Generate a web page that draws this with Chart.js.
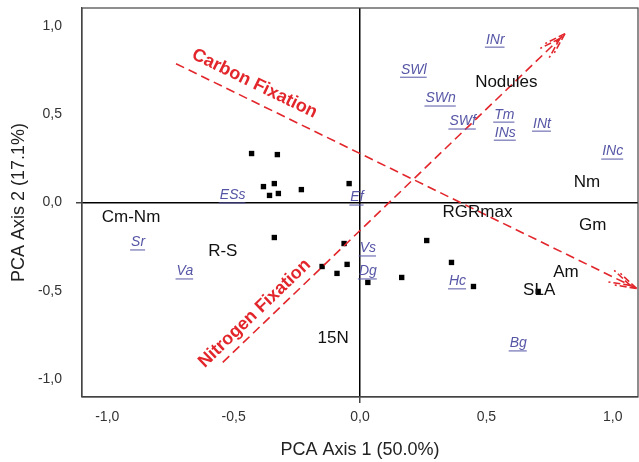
<!DOCTYPE html>
<html>
<head>
<meta charset="utf-8">
<script src="https://cdn.jsdelivr.net/npm/chart.js@4"></script>
<style>
  html, body { margin: 0; padding: 0; background: #fff; }
  #wrap { width: 639px; height: 462px; }
</style>
</head>
<body>
<div id="wrap"><canvas id="pca"></canvas></div>
<script>
// site scores (black squares)
const pointX = [-0.429, -0.327, -0.382, -0.339, -0.358, -0.323, -0.232, -0.043, -0.339,
  -0.063, -0.150, -0.091, -0.051, 0.031, 0.165, 0.264, 0.362, 0.449, 0.705];
const pointY = [0.277, 0.271, 0.090, 0.107, 0.040, 0.051, 0.073, 0.107, -0.198,
  -0.232, -0.362, -0.401, -0.350, -0.452, -0.424, -0.215, -0.339, -0.475, -0.503];

// trait labels (black)
const traitNames = ["Nodules", "Nm", "RGRmax", "Gm", "Am", "SLA", "15N", "Cm-Nm", "R-S"];
const traitX = [0.579, 0.898, 0.465, 0.921, 0.815, 0.709, -0.106, -0.906, -0.543];
const traitY = [0.678, 0.113, -0.056, -0.130, -0.395, -0.497, -0.768, -0.085, -0.277];

// species labels (blue, underlined)
const speciesNames = ["INr", "SWl", "SWn", "SWf", "Tm", "INs", "INt", "INc", "Ef", "ESs",
  "Sr", "Va", "Vs", "Dg", "Hc", "Bg"];
const speciesX = [0.535, 0.213, 0.319, 0.406, 0.571, 0.575, 0.720, 1.000, -0.012, -0.504,
  -0.878, -0.693, 0.031, 0.031, 0.386, 0.626];
const speciesY = [0.921, 0.751, 0.588, 0.458, 0.497, 0.395, 0.446, 0.288, 0.028, 0.040,
  -0.226, -0.390, -0.260, -0.390, -0.446, -0.797];

// interpretation arrows
const arrowNames = ["Carbon Fixation", "Nitrogen Fixation"];
const arrowStartX = [-0.728, -0.543];
const arrowStartY = [0.785, -0.904];
const arrowEndX = [1.094, 0.811];
const arrowEndY = [-0.486, 0.955];
const arrowLabelX = [-0.417, -0.417];
const arrowLabelY = [0.672, -0.627];

const tickValues = [-1, -0.5, 0, 0.5, 1];
const tickLabels = ["-1,0", "-0,5", "0,0", "0,5", "1,0"];

const RED = "#e2262b";
const BLUE = "#5656a6";

const overlay = {
  id: "overlay",
  afterDatasetsDraw(chart) {
    const { ctx, chartArea: a, scales: { x, y } } = chart;
    ctx.save();
    // frame
    ctx.strokeStyle = "#444";
    ctx.lineWidth = 1.2;
    ctx.strokeRect(a.left, a.top, a.right - a.left, a.bottom - a.top);

    // arrows
    ctx.strokeStyle = RED;
    ctx.lineWidth = 1.6;
    ctx.setLineDash([9, 5]);
    for (let i = 0; i < arrowNames.length; i++) {
      const x0 = x.getPixelForValue(arrowStartX[i]), y0 = y.getPixelForValue(arrowStartY[i]);
      const x1 = x.getPixelForValue(arrowEndX[i]), y1 = y.getPixelForValue(arrowEndY[i]);
      ctx.beginPath();
      ctx.moveTo(x0, y0);
      ctx.lineTo(x1, y1);
      ctx.stroke();
      const back = Math.atan2(y0 - y1, x0 - x1);
      ctx.setLineDash([7, 3]);
      for (const off of [0, 7]) {
        const tx = x1 + off * Math.cos(back), ty = y1 + off * Math.sin(back);
        for (const s of [-0.3, 0.3]) {
          ctx.beginPath();
          ctx.moveTo(tx, ty);
          ctx.lineTo(tx + 22 * Math.cos(back + s), ty + 22 * Math.sin(back + s));
          ctx.stroke();
        }
      }
      ctx.setLineDash([9, 5]);

      // label parallel to the arrow
      let ang = Math.atan2(y1 - y0, x1 - x0);
      if (ang > Math.PI / 2) ang -= Math.PI;
      if (ang < -Math.PI / 2) ang += Math.PI;
      ctx.save();
      ctx.translate(x.getPixelForValue(arrowLabelX[i]), y.getPixelForValue(arrowLabelY[i]));
      ctx.rotate(ang);
      ctx.fillStyle = RED;
      ctx.font = "bold 18px 'Liberation Sans', Arial, sans-serif";
      ctx.textAlign = "center";
      ctx.textBaseline = "middle";
      ctx.fillText(arrowNames[i], 0, 0);
      ctx.restore();
    }
    ctx.setLineDash([]);

    ctx.textAlign = "center";
    ctx.textBaseline = "middle";
    // traits
    ctx.fillStyle = "#111";
    ctx.font = "17px 'Liberation Sans', Arial, sans-serif";
    traitNames.forEach((t, i) => {
      ctx.fillText(t, x.getPixelForValue(traitX[i]), y.getPixelForValue(traitY[i]));
    });
    // species
    ctx.fillStyle = BLUE;
    ctx.strokeStyle = BLUE;
    ctx.lineWidth = 1;
    ctx.font = "italic 14px 'Liberation Sans', Arial, sans-serif";
    speciesNames.forEach((t, i) => {
      const px = x.getPixelForValue(speciesX[i]), py = y.getPixelForValue(speciesY[i]);
      ctx.fillText(t, px, py);
      const w = ctx.measureText(t).width;
      ctx.beginPath();
      ctx.moveTo(px - w / 2 - 1, py + 7.5);
      ctx.lineTo(px + w / 2, py + 7.5);
      ctx.stroke();
    });
    ctx.restore();
  }
};

const zeroGrid = {
  color: (c) => (c.tick && c.tick.value === 0 ? "#000" : "rgba(0,0,0,0)"),
  lineWidth: (c) => (c.tick && c.tick.value === 0 ? 1.5 : 0),
  tickColor: "#444",
  tickLength: 6,
  drawTicks: true
};

function noPad(s) {
  s.paddingTop = 0;
  s.paddingBottom = 0;
  s.paddingLeft = 0;
  s.paddingRight = 0;
}

new Chart(document.getElementById("pca"), {
  type: "scatter",
  data: {
    datasets: [{
      data: pointX.map((v, i) => ({ x: v, y: pointY[i] })),
      pointStyle: "rect",
      radius: 3.8,
      backgroundColor: "#000",
      borderColor: "#000",
      borderWidth: 0
    }]
  },
  options: {
    responsive: true,
    maintainAspectRatio: false,
    animation: false,
    layout: { autoPadding: false, padding: { top: 8, right: 1, left: 0, bottom: 0 } },
    plugins: { legend: { display: false }, tooltip: { enabled: false } },
    scales: {
      x: {
        type: "linear",
        min: -1.1,
        max: 1.1,
        afterBuildTicks: (s) => { s.ticks = tickValues.map((v) => ({ value: v })); },
        afterFit: (s) => { s.height = 65; noPad(s); },
        ticks: {
          callback: (v) => tickLabels[tickValues.indexOf(v)],
          color: "#333",
          font: { size: 14, family: "'Liberation Sans', Arial" },
          padding: 6,
          maxRotation: 0
        },
        grid: zeroGrid,
        border: { display: true, color: "#444", width: 1.2 },
        title: {
          display: true,
          text: "PCA Axis 1 (50.0%)",
          color: "#222",
          font: { size: 18, family: "'Liberation Sans', Arial" },
          padding: { top: 0, bottom: 1 }
        }
      },
      y: {
        type: "linear",
        min: -1.1,
        max: 1.1,
        afterBuildTicks: (s) => { s.ticks = tickValues.map((v) => ({ value: v })); },
        afterFit: (s) => { s.width = 82; noPad(s); },
        ticks: {
          callback: (v) => tickLabels[tickValues.indexOf(v)],
          color: "#333",
          font: { size: 14, family: "'Liberation Sans', Arial" },
          padding: 14
        },
        grid: zeroGrid,
        border: { display: true, color: "#444", width: 1.2 },
        title: {
          display: true,
          text: "PCA Axis 2 (17.1%)",
          color: "#222",
          font: { size: 18, family: "'Liberation Sans', Arial" },
          padding: { top: 8, bottom: 0 }
        }
      }
    }
  },
  plugins: [overlay]
});
</script>
</body>
</html>
